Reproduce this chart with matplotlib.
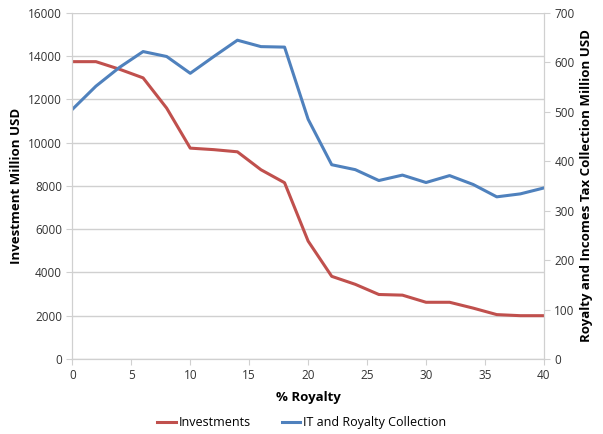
import matplotlib.pyplot as plt

plt.rcParams['font.family'] = ['Open Sans', 'DejaVu Sans']

royalty = [0, 2, 4, 6, 8, 10, 12, 14, 16, 18, 20, 22, 24, 26, 28, 30, 32, 34, 36, 38, 40]
investments = [13750, 13750, 13400, 13000, 11600, 9750, 9680, 9580, 8750, 8150, 5450,
               3820, 3450, 2980, 2950, 2620, 2620, 2350, 2050, 2000, 2000]
collection = [505, 552, 590, 622, 612, 578, 612, 645, 632, 631, 485,
              393, 383, 361, 372, 357, 371, 353, 328, 334, 346]

red = '#c0504d'
blue = '#4f81bd'
grid_c = '#d0d0d0'

fig, ax = plt.subplots(figsize=(6.03, 4.34), dpi=100)
fig.subplots_adjust(left=0.12, right=0.902, top=0.97, bottom=0.173)
ax2 = ax.twinx()

l1, = ax.plot(royalty, investments, color=red, lw=2.2, label='Investments')
l2, = ax2.plot(royalty, collection, color=blue, lw=2.2, label='IT and Royalty Collection')

ax.set_xlim(0, 40)
ax.set_ylim(0, 16000)
ax.set_yticks(range(0, 16001, 2000))
ax.set_xticks(range(0, 41, 5))
ax2.set_ylim(0, 700)
ax2.set_yticks(range(0, 701, 100))

ax.grid(axis='y', color=grid_c, lw=1)
ax.set_axisbelow(True)

for a in (ax, ax2):
    for s in a.spines.values():
        s.set_color(grid_c)
    a.spines['top'].set_visible(False)
    a.tick_params(colors='#333333', labelsize=8.5, length=4, color=grid_c)

ax.set_xlabel('% Royalty', fontsize=9.5, fontweight='bold', labelpad=6)
ax.set_ylabel('Investment Million USD', fontsize=9.5, fontweight='bold')
ax2.set_ylabel('Royalty and Incomes Tax Collection Million USD', fontsize=9.5, fontweight='bold')

fig.legend(handles=[l1, l2], loc='lower center', ncol=2, frameon=False,
           fontsize=9, bbox_to_anchor=(0.5, -0.015), handlelength=1.5,
           handletextpad=0.2, columnspacing=2.5)

fig.savefig('out.png')
